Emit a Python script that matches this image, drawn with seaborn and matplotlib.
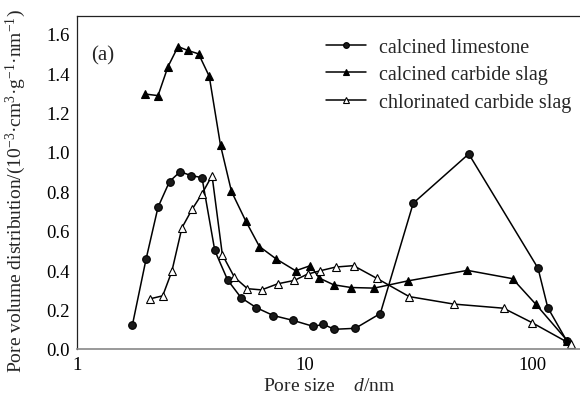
import matplotlib
matplotlib.use("Agg")
import matplotlib.pyplot as plt
from matplotlib.ticker import LogLocator, MultipleLocator, FixedLocator, NullFormatter
from matplotlib.lines import Line2D
import seaborn as sns
import pandas as pd

# Pore size (nm) and pore volume distribution (10^-3 cm^3 g^-1 nm^-1)
limestone_d = [1.75, 2.01, 2.27, 2.55, 2.84, 3.17, 3.54, 4.03, 4.59, 5.26, 6.13,
               7.28, 8.91, 10.9, 12.1, 13.5, 16.7, 21.5, 30.0, 52.6, 106, 117, 142]
limestone_v = [0.12, 0.455, 0.72, 0.85, 0.90, 0.88, 0.87, 0.50, 0.35, 0.26, 0.21,
               0.17, 0.145, 0.115, 0.125, 0.10, 0.105, 0.18, 0.74, 0.99, 0.41, 0.21, 0.04]

slag_d = [1.99, 2.27, 2.51, 2.78, 3.07, 3.42, 3.81, 4.27, 4.77, 5.51, 6.33,
          7.50, 9.13, 10.6, 11.6, 13.4, 16.0, 20.2, 28.5, 51.9, 81.9, 103.5, 142.6]
slag_v = [1.294, 1.286, 1.433, 1.535, 1.515, 1.498, 1.384, 1.034, 0.80, 0.65, 0.52,
          0.457, 0.397, 0.423, 0.36, 0.326, 0.312, 0.309, 0.346, 0.399, 0.357, 0.228, 0.042]

chlor_d = [2.10, 2.38, 2.61, 2.89, 3.20, 3.53, 3.92, 4.35, 4.91, 5.61, 6.47,
           7.62, 9.01, 10.3, 11.7, 13.7, 16.4, 20.8, 28.8, 45.2, 74.8, 99.7, 147.5]
chlor_v = [0.255, 0.27, 0.394, 0.615, 0.708, 0.785, 0.88, 0.479, 0.365, 0.306, 0.30,
           0.331, 0.348, 0.38, 0.397, 0.416, 0.423, 0.358, 0.266, 0.228, 0.207, 0.134, 0.025]

series_names = ["calcined limestone", "calcined carbide slag", "chlorinated carbide slag"]
x_ticks = [1, 10, 100]
x_ticklabels = ["1", "10", "100"]

sns.set_theme(style="white")
plt.rcParams["font.family"] = ["Liberation Serif", "DejaVu Serif"]
plt.rcParams["mathtext.fontset"] = "custom"
plt.rcParams["mathtext.rm"] = "Liberation Serif"
plt.rcParams["mathtext.it"] = "Liberation Serif:italic"

fig = plt.figure(figsize=(5.8, 4.06), dpi=100)
ax = fig.add_axes([77 / 580, 56 / 406, 1 - 77 / 580 + 0.002, (350 - 17) / 406])

styles = [
    dict(marker="o", markersize=5.5, markerfacecolor="#1a1a1a", markeredgecolor="black"),
    dict(marker="^", markersize=6, markerfacecolor="black", markeredgecolor="black"),
    dict(marker="^", markersize=6, markerfacecolor="white", markeredgecolor="black"),
]
data = [(limestone_d, limestone_v), (slag_d, slag_v), (chlor_d, chlor_v)]

for (d, v), name, st in zip(data, series_names, styles):
    df = pd.DataFrame({"d": d, "v": v})
    sns.lineplot(data=df, x="d", y="v", ax=ax, color="black", linewidth=1.1,
                 sort=False, estimator=None, markeredgewidth=0.8, legend=False, **st)

ax.set_xscale("log")
ax.set_xlim(1, 164)
ax.set_ylim(0, 1.69)
ax.xaxis.set_major_locator(FixedLocator(x_ticks))
ax.set_xticklabels(x_ticklabels)
ax.xaxis.set_minor_locator(LogLocator(base=10, subs=range(2, 10)))
ax.xaxis.set_minor_formatter(NullFormatter())
ax.yaxis.set_major_locator(MultipleLocator(0.2))
ax.yaxis.set_minor_locator(MultipleLocator(0.1))
ax.yaxis.set_major_formatter(plt.FuncFormatter(lambda v, p: f"{v:.1f}"))

ax.tick_params(axis="both", which="both", direction="in", labelsize=13.5,
               colors="black", width=0.8, top=False, right=False)
ax.tick_params(axis="both", which="major", length=5, pad=5)
ax.tick_params(axis="both", which="minor", length=3)

for side in ["left", "top"]:
    ax.spines[side].set_color("#222222")
    ax.spines[side].set_linewidth(0.9)
ax.spines["bottom"].set_color("#888888")
ax.spines["bottom"].set_linewidth(1.2)
ax.spines["right"].set_visible(False)

ax.set_xlabel("Pore size    $d$/nm", fontsize=14, labelpad=3)
ax.set_ylabel("Pore volume distribution/(10$^{-3}$·cm$^{3}$·g$^{-1}$·nm$^{-1}$)",
              fontsize=14)
ax.yaxis.set_label_coords(-0.098, 0.476)

ax.text(0.028, 1.493, "(a)", transform=ax.get_yaxis_transform(), fontsize=15,
        va="center", ha="left")

handles = [Line2D([], [], color="black", linewidth=1.1, markeredgewidth=0.8,
                  **{**st, "markersize": st["markersize"] * 0.75}) for st in styles]
ax.legend(handles, series_names, loc="upper left", bbox_to_anchor=(0.493, 0.934),
          frameon=False, fontsize=14.5, handlelength=2.0, handletextpad=0.65,
          labelspacing=0.41, borderaxespad=0, borderpad=0)

fig.savefig("out.png", dpi=100)
